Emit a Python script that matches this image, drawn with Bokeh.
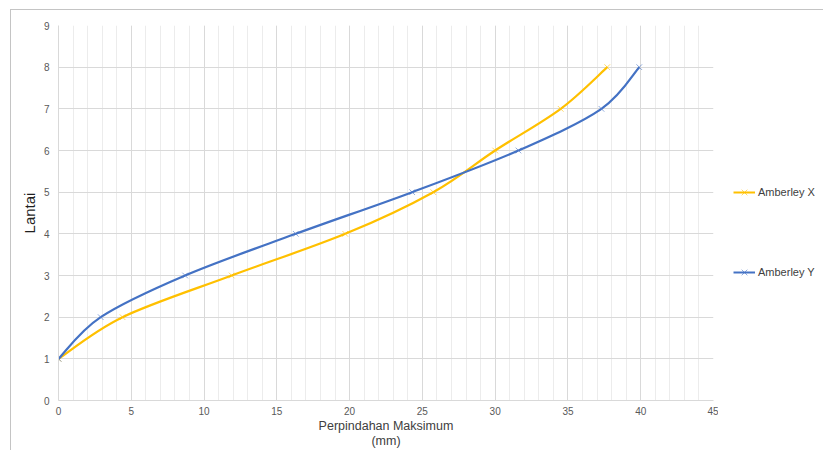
from bokeh.plotting import figure
from bokeh.layouts import row
from bokeh.models import Legend, LegendItem, FixedTicker, Range1d
from bokeh.embed import file_html
from bokeh.resources import INLINE

floors = [1, 2, 3, 4, 5, 6, 7, 8]
amberley_x = [0.0, 4.4, 11.9, 19.7, 25.75, 30.0, 34.5, 37.7]
amberley_y = [0.0, 2.9, 8.7, 16.3, 24.3, 31.6, 37.3, 39.9]
series_names = ["Amberley X", "Amberley Y"]
series_colors = ["#FFC000", "#4472C4"]
x_ticks = [0, 5, 10, 15, 20, 25, 30, 35, 40, 45]
y_ticks = [0, 1, 2, 3, 4, 5, 6, 7, 8, 9]

FONT = "Liberation Sans"


def smooth_segments(xs, ys, k=1.0 / 6.0):
    n = len(xs)
    segs = {"x0": [], "y0": [], "x1": [], "y1": [], "cx0": [], "cy0": [], "cx1": [], "cy1": []}
    for i in range(n - 1):
        p0 = (xs[max(i - 1, 0)], ys[max(i - 1, 0)])
        p1 = (xs[i], ys[i])
        p2 = (xs[i + 1], ys[i + 1])
        p3 = (xs[min(i + 2, n - 1)], ys[min(i + 2, n - 1)])
        segs["x0"].append(p1[0]); segs["y0"].append(p1[1])
        segs["x1"].append(p2[0]); segs["y1"].append(p2[1])
        segs["cx0"].append(p1[0] + (p2[0] - p0[0]) * k)
        segs["cy0"].append(p1[1] + (p2[1] - p0[1]) * k)
        segs["cx1"].append(p2[0] - (p3[0] - p1[0]) * k)
        segs["cy1"].append(p2[1] - (p3[1] - p1[1]) * k)
    return segs


p = figure(width=718, height=450, output_backend="svg", toolbar_location=None,
           x_range=Range1d(0, 45), y_range=Range1d(0, 9),
           min_border_left=58, min_border_right=5, min_border_top=25, min_border_bottom=50)
p.outline_line_color = None
p.background_fill_color = "white"
p.border_fill_alpha = 0

p.xaxis.ticker = FixedTicker(ticks=x_ticks, minor_ticks=list(range(0, 46)))
p.yaxis.ticker = FixedTicker(ticks=y_ticks)
for ax in (p.xaxis, p.yaxis):
    ax.major_tick_line_color = None
    ax.minor_tick_line_color = None
    ax.major_tick_out = 0
    ax.major_tick_in = 0
    ax.minor_tick_out = 0
    ax.minor_tick_in = 0
    ax.axis_line_color = "#d9d9d9"
    ax.major_label_text_font = FONT
    ax.major_label_text_font_size = "10px"
    ax.major_label_text_color = "#595959"
    ax.axis_label_text_font = FONT
    ax.axis_label_text_font_style = "normal"
p.xaxis.major_label_standoff = 6
p.yaxis.major_label_standoff = 9
p.xaxis.axis_label = "Perpindahan Maksimum\n(mm)"
p.xaxis.axis_label_text_font_size = "12.5px"
p.xaxis.axis_label_text_line_height = 1.1
p.xaxis.axis_label_text_color = "#404040"
p.xaxis.axis_label_standoff = 1
p.yaxis.axis_label = "Lantai"
p.yaxis.axis_label_text_font_size = "15px"
p.yaxis.axis_label_text_color = "#1f1f1f"
p.yaxis.axis_label_standoff = 3

p.xgrid.grid_line_color = "#d9d9d9"
p.xgrid.minor_grid_line_color = "#ececec"
p.ygrid.grid_line_color = "#d9d9d9"

for name, xs, color in zip(series_names, [amberley_x, amberley_y], series_colors):
    s = smooth_segments(xs, floors)
    p.bezier(x0=s["x0"], y0=s["y0"], x1=s["x1"], y1=s["y1"],
             cx0=s["cx0"], cy0=s["cy0"], cx1=s["cx1"], cy1=s["cy1"],
             line_color=color, line_width=2.2)
    p.scatter(xs, floors, marker="x", size=8, line_color=color, line_width=1, line_alpha=0.6)

# legend panel (separate small figure to the right of the chart)
lg = figure(width=105, height=450, output_backend="svg", toolbar_location=None,
            x_range=Range1d(0, 1), y_range=Range1d(0, 1),
            min_border_left=0, min_border_right=0, min_border_top=0, min_border_bottom=0)
lg.axis.visible = False
lg.grid.visible = False
lg.outline_line_color = None
lg.background_fill_alpha = 0
lg.border_fill_alpha = 0
items = []
for name, color in zip(series_names, series_colors):
    ln = lg.line([-5, -4], [-5, -4], line_color=color, line_width=2)
    mk = lg.scatter([-5], [-5], marker="x", size=8, line_color=color, line_width=1, line_alpha=0.6)
    items.append(LegendItem(label=name, renderers=[ln, mk]))
legend = Legend(items=items, location=(15, 118), orientation="vertical",
                spacing=60, padding=0, margin=0, glyph_width=22, glyph_height=20,
                label_height=20, label_standoff=3, label_text_font=FONT,
                label_text_font_size="11px", label_text_color="#404040",
                border_line_color=None, background_fill_alpha=0)
lg.add_layout(legend, "center")

layout = row(p, lg, spacing=0)
layout.styles = {
    "background": "linear-gradient(#c4c4c4,#c4c4c4) 10px 9px / 2000px 1px no-repeat, "
                  "linear-gradient(#c4c4c4,#c4c4c4) 10px 9px / 1px 2000px no-repeat, white"
}

open("out.html", "w").write(file_html(layout, INLINE))
